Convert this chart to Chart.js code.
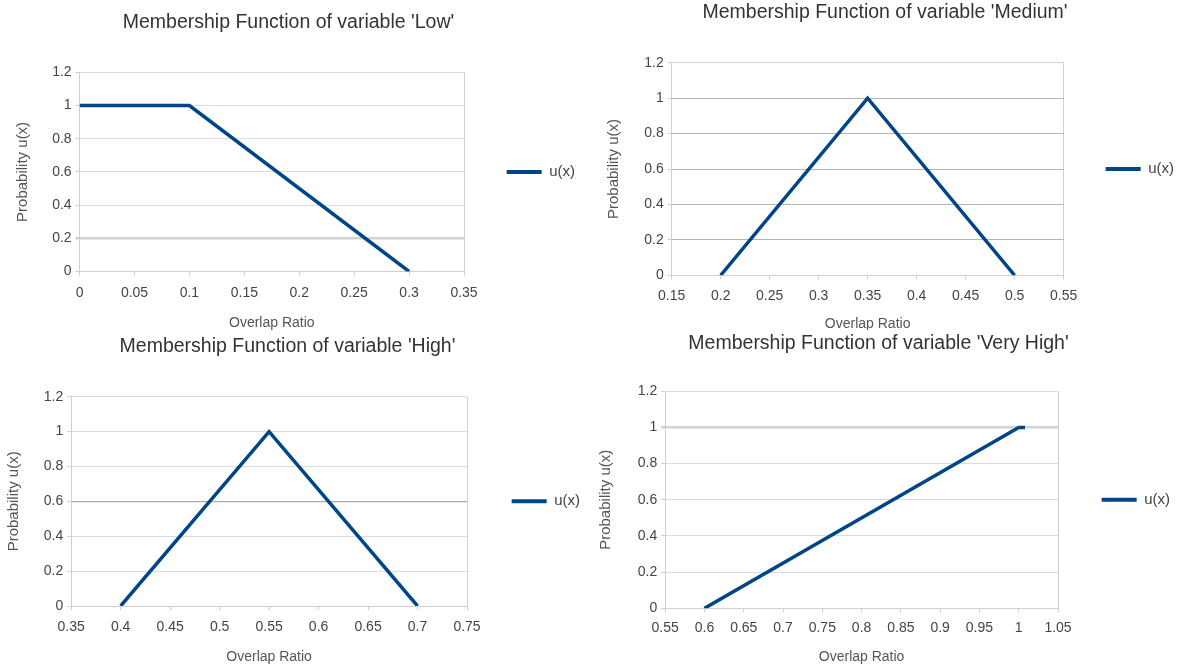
<!DOCTYPE html>
<html>
<head>
<meta charset="utf-8">
<script src="https://cdn.jsdelivr.net/npm/chart.js@4.4.0/dist/chart.umd.min.js"></script>
<style>
  html, body { margin: 0; padding: 0; background: #fff; width: 1183px; height: 671px; overflow: hidden; position: relative; }
  canvas { position: absolute; }
</style>
</head>
<body>
<canvas id="chartLow"></canvas>
<canvas id="chartMedium"></canvas>
<canvas id="chartHigh"></canvas>
<canvas id="chartVeryHigh"></canvas>
<script>
// values
const lowX = [0, 0.1, 0.3];
const lowY = [1, 1, 0];
const mediumX = [0.2, 0.35, 0.5];
const mediumY = [0, 1, 0];
const highX = [0.4, 0.55, 0.7];
const highY = [0, 1, 0];
const veryHighX = [0.6, 1, 1.008];
const veryHighY = [0, 1, 1];

const lowRange = [0, 0.35];
const mediumRange = [0.15, 0.55];
const highRange = [0.35, 0.75];
const veryHighRange = [0.55, 1.05];
const xStep = 0.05;
const yRange = [0, 1.2];
const yStep = 0.2;

const FONT = '"Liberation Sans", Arial, sans-serif';
const TITLE_SIZE = 19.5;
const TICK_SIZE = 14;
const XTITLE_SIZE = 14;
const YTITLE_SIZE = 15;
const LEGEND_SIZE = 15;
const LH = 1.2;
const LINE_COLOR = "#004586";

function measure(text, size) {
  const ctx = document.createElement("canvas").getContext("2d");
  ctx.font = size + "px " + FONT;
  return ctx.measureText(text).width;
}

const fmt = (v) => String(+Number(v).toFixed(2));

// white band behind the title (the lower titles sit over the upper x titles)
const titleBand = {
  id: "titleBand",
  beforeDraw(chart, args, opts) {
    if (!opts.on) return;
    const ctx = chart.ctx;
    ctx.save();
    ctx.fillStyle = "#fff";
    ctx.fillRect(0, 0, chart.width, 18);
    ctx.restore();
  },
};

// box: target pixel positions on the page
function makeChart(id, title, xs, ys, range, box, grid) {
  const itemWidth = 35 + LEGEND_SIZE / 2 + measure("u(x)", LEGEND_SIZE);
  const right = Math.round(box.lx + 10 + itemWidth);
  const left = Math.round(2 * box.cx - right);
  const top = Math.round(box.ty - (TITLE_SIZE * LH) / 2 - 2);
  const bottom = Math.round(box.xt + (XTITLE_SIZE * LH) / 2 + 1);

  const canvas = document.getElementById(id);
  canvas.width = right - left;
  canvas.height = bottom - top;
  canvas.style.left = left + "px";
  canvas.style.top = top + "px";

  const titlePadTop = box.ty - top - (TITLE_SIZE * LH) / 2;
  const titlePadBottom = box.T - top - titlePadTop - TITLE_SIZE * LH;
  const legendPad = right - box.R - itemWidth - 10;

  return new Chart(canvas, {
    type: "line",
    data: {
      datasets: [
        {
          label: "u(x)",
          data: xs.map((x, i) => ({ x: x, y: ys[i] })),
          borderColor: LINE_COLOR,
          backgroundColor: LINE_COLOR,
          borderWidth: 3.5,
          pointRadius: 0,
          tension: 0,
          fill: false,
        },
      ],
    },
    options: {
      responsive: false,
      animation: false,
      layout: { padding: 0 },
      plugins: {
        titleBand: { on: !!box.band },
        title: {
          display: true,
          text: title,
          color: "#333",
          font: { family: FONT, size: TITLE_SIZE, weight: "normal" },
          padding: { top: titlePadTop, bottom: titlePadBottom },
        },
        legend: {
          position: "right",
          fullSize: false,
          labels: {
            boxWidth: 35,
            boxHeight: 4,
            padding: legendPad,
            color: "#444",
            font: { family: FONT, size: LEGEND_SIZE },
            generateLabels: (chart) =>
              Chart.defaults.plugins.legend.labels
                .generateLabels(chart)
                .map((l) => ({ ...l, lineWidth: 0 })),
          },
        },
        tooltip: { enabled: false },
      },
      scales: {
        x: {
          type: "linear",
          min: range[0],
          max: range[1],
          afterFit: (scale) => {
            scale.height = bottom - box.B;
          },
          ticks: {
            stepSize: xStep,
            color: "#444",
            padding: box.xl - box.B - 4 - (TICK_SIZE * LH) / 2,
            maxRotation: 0,
            autoSkip: false,
            font: { family: FONT, size: TICK_SIZE },
            callback: fmt,
          },
          grid: {
            drawOnChartArea: true,
            color: (ctx) =>
              ctx.tick && Math.abs(ctx.tick.value - range[1]) < 1e-9 ? "#cfcfcf" : "rgba(0,0,0,0)",
            tickColor: "#cfcfcf",
            tickLength: 4,
          },
          border: { display: true, color: "#cfcfcf" },
          title: {
            display: true,
            text: "Overlap Ratio",
            color: "#555",
            font: { family: FONT, size: XTITLE_SIZE },
            padding: { top: 0, bottom: 1 },
          },
        },
        y: {
          min: yRange[0],
          max: yRange[1],
          afterFit: (scale) => {
            scale.width = box.L - left;
          },
          ticks: {
            stepSize: yStep,
            color: "#444",
            padding: 4,
            font: { family: FONT, size: TICK_SIZE },
            callback: fmt,
          },
          grid: {
            color: (ctx) => {
              const v = ctx.tick ? ctx.tick.value : null;
              if (v !== null && grid.accent !== undefined && Math.abs(v - grid.accent) < 1e-9) return grid.accentColor;
              if (v !== null && Math.abs(v - yRange[1]) < 1e-9) return grid.edge;
              return grid.color;
            },
            lineWidth: (ctx) => {
              const v = ctx.tick ? ctx.tick.value : null;
              if (v !== null && grid.accent !== undefined && Math.abs(v - grid.accent) < 1e-9) return grid.accentWidth;
              return 1;
            },
            tickColor: "#cfcfcf",
            tickLength: 4,
          },
          border: { display: true, color: "#cfcfcf" },
          title: {
            display: true,
            text: "Probability u(x)",
            color: "#555",
            font: { family: FONT, size: YTITLE_SIZE },
            padding: { top: box.yt - left - (YTITLE_SIZE * LH) / 2, bottom: 0 },
          },
        },
      },
    },
    plugins: [titleBand],
  });
}

makeChart("chartLow", "Membership Function of variable 'Low'", lowX, lowY, lowRange,
  { cx: 288.5, ty: 22.7, L: 79.6, T: 72.3, R: 464, B: 271.5, lx: 507, xl: 292.7, xt: 323.3, yt: 23 },
  { color: "#dcdcdc", edge: "#dcdcdc", accent: 0.2, accentColor: "#d2d2d2", accentWidth: 2.5 });

makeChart("chartMedium", "Membership Function of variable 'Medium'", mediumX, mediumY, mediumRange,
  { cx: 885, ty: 12.7, L: 671.7, T: 62.7, R: 1063.6, B: 275.3, lx: 1106, xl: 296, xt: 325, yt: 614 },
  { color: "#b4b4b4", edge: "#d4d4d4" });

makeChart("chartHigh", "Membership Function of variable 'High'", highX, highY, highRange,
  { cx: 287.5, ty: 346.7, L: 71.2, T: 396.7, R: 467, B: 606, lx: 512, xl: 626.7, xt: 657.7, yt: 14 },
  { color: "#dcdcdc", edge: "#dcdcdc", accent: 0.6, accentColor: "#ababab", accentWidth: 1.2 });

makeChart("chartVeryHigh", "Membership Function of variable 'Very High'", veryHighX, veryHighY, veryHighRange,
  { cx: 878.6, ty: 343.3, L: 665.2, T: 391.3, R: 1058, B: 608.3, lx: 1102, xl: 627.7, xt: 657.7, yt: 606, band: true },
  { color: "#dcdcdc", edge: "#dcdcdc", accent: 1, accentColor: "#d2d2d2", accentWidth: 2.5 });
</script>
</body>
</html>
